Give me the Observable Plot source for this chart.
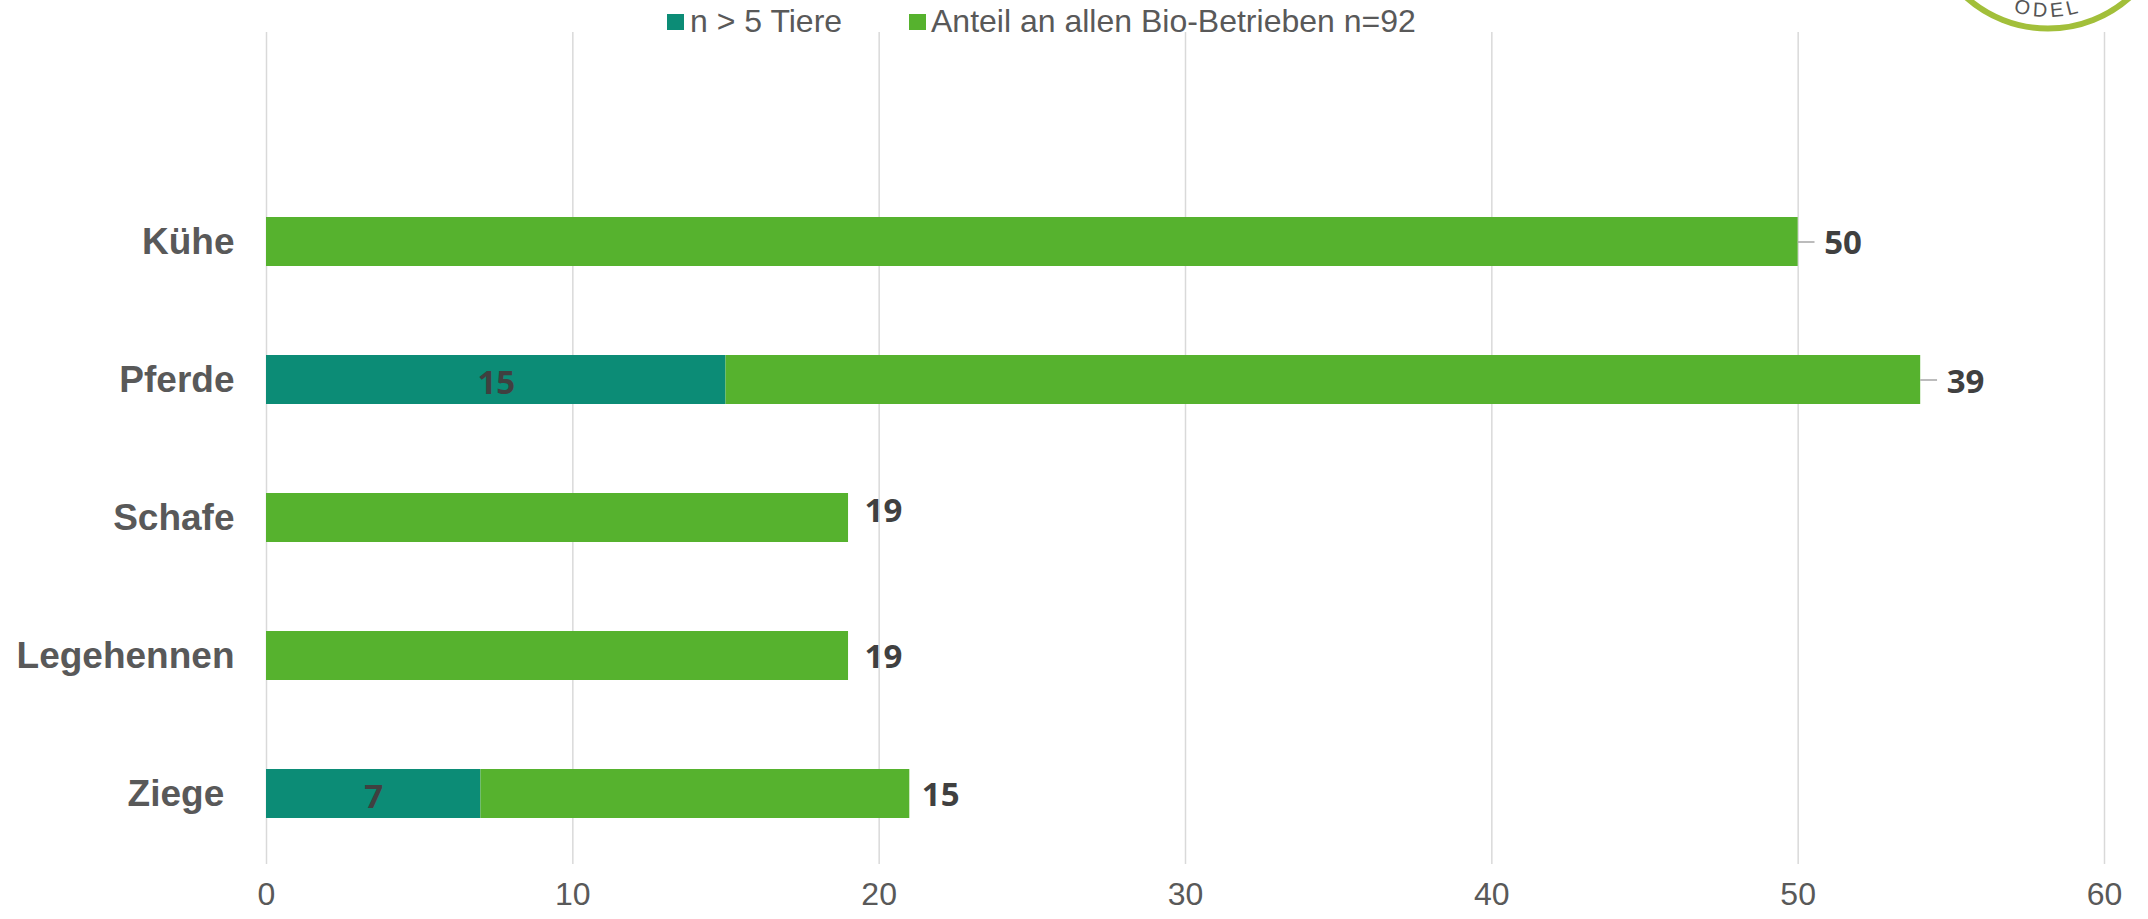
<!DOCTYPE html>
<html><head><meta charset="utf-8">
<script src="https://cdn.jsdelivr.net/npm/d3@7"></script>
<script src="https://cdn.jsdelivr.net/npm/@observablehq/plot@0.6"></script>
<style>
html,body{margin:0;padding:0;background:#fff;overflow:hidden}
#legend{position:relative;height:32px;width:2148px;font:32px "Liberation Sans",sans-serif;color:#595959}
#legend span{position:absolute;top:0;line-height:42px;white-space:nowrap}
#legend i{position:absolute;top:14px;width:17px;height:16px}
#logo{position:absolute;left:1940px;top:0}
svg{display:block}
</style></head><body>
<div id="legend"></div>
<div id="chart"></div>
<svg id="logo" width="208" height="40" viewBox="1940 0 208 40">
  <defs><path id="ringText" d="M1937 -94 A111 111 0 0 0 2159 -94"/></defs>
  <circle cx="2048" cy="-94" r="122.6" fill="none" stroke="#a2bf3a" stroke-width="6"/>
  <text font-family="Liberation Sans" font-size="20" fill="#555"><textPath href="#ringText" startOffset="50%" text-anchor="middle" letter-spacing="4">ODEL</textPath></text>
</svg>
<script>
const categories = ["Kühe","Pferde","Schafe","Legehennen","Ziege\u00a0"];
const teal = [0,15,0,0,7];
const green = [50,39,19,19,14];
const greenLabels = ["50","39","19","19","15"];
const tealLabels = ["","15","","","7"];
const leaderLength = [0.55,0.55,0,0,0];
const seriesNames = ["n > 5 Tiere","Anteil an allen Bio-Betrieben n=92"];
const colors = ["#0c8c76","#56b22e"];
const xTicks = [0,10,20,30,40,50,60];

const rows = categories.map((c,i)=>({c,teal:teal[i],green:green[i],end:teal[i]+green[i],gl:greenLabels[i],tl:tealLabels[i],lead:leaderLength[i]}));
const blank = " ";
const byCat = i => [rows[i]];

const legend = document.getElementById("legend");
[[667,690,0],[909,931,1]].forEach(([sx,tx,i])=>{
  legend.insertAdjacentHTML("beforeend",`<i style="left:${sx}px;background:${colors[i]}"></i><span style="left:${tx}px">${seriesNames[i]}</span>`);
});

const labelFont = {fontFamily:"'Open Sans',sans-serif",fontWeight:700,fontSize:33,fill:"#404040"};
const plot = Plot.plot({
  width:2148,height:887,
  marginLeft:266,marginRight:44,marginTop:0,marginBottom:55,
  style:{background:"#fff"},
  x:{domain:[0,60],ticks:xTicks},
  y:{domain:[blank,...categories],paddingInner:0.647,paddingOuter:0.3235,align:0.5},
  marks:[
    Plot.gridX(xTicks,{stroke:"#d9d9d9",strokeOpacity:1,strokeWidth:1.5}),
    Plot.axisX(xTicks,{anchor:"bottom",tickSize:0,tickPadding:18,fontSize:32,fontFamily:"'Liberation Sans',sans-serif",fill:"#595959",label:null}),
    Plot.axisY(categories,{anchor:"left",tickSize:0,tickPadding:32,fontSize:37,fontWeight:700,fontFamily:"'Liberation Sans',sans-serif",fill:"#595959",label:null}),
    Plot.barX(rows,{y:"c",x1:0,x2:"teal",fill:colors[0]}),
    Plot.barX(rows,{y:"c",x1:"teal",x2:"end",fill:colors[1]}),
    Plot.ruleY(rows.filter(d=>d.lead>0),{y:"c",x1:"end",x2:d=>d.end+d.lead,stroke:"#a6a6a6",strokeWidth:1.5}),
    Plot.text(rows,{y:"c",x:d=>d.teal/2,text:"tl",...labelFont,dy:3}),
    Plot.text(byCat(0),{y:"c",x:"end",text:"gl",textAnchor:"start",dx:26,dy:1,...labelFont}),
    Plot.text(byCat(1),{y:"c",x:"end",text:"gl",textAnchor:"start",dx:26,dy:2,...labelFont}),
    Plot.text(byCat(2),{y:"c",x:"end",text:"gl",textAnchor:"start",dx:16,dy:-7,...labelFont}),
    Plot.text(byCat(3),{y:"c",x:"end",text:"gl",textAnchor:"start",dx:16,dy:1,...labelFont}),
    Plot.text(byCat(4),{y:"c",x:"end",text:"gl",textAnchor:"start",dx:12,dy:1,...labelFont})
  ]
});
document.getElementById("chart").appendChild(plot);
</script>
</body></html>
